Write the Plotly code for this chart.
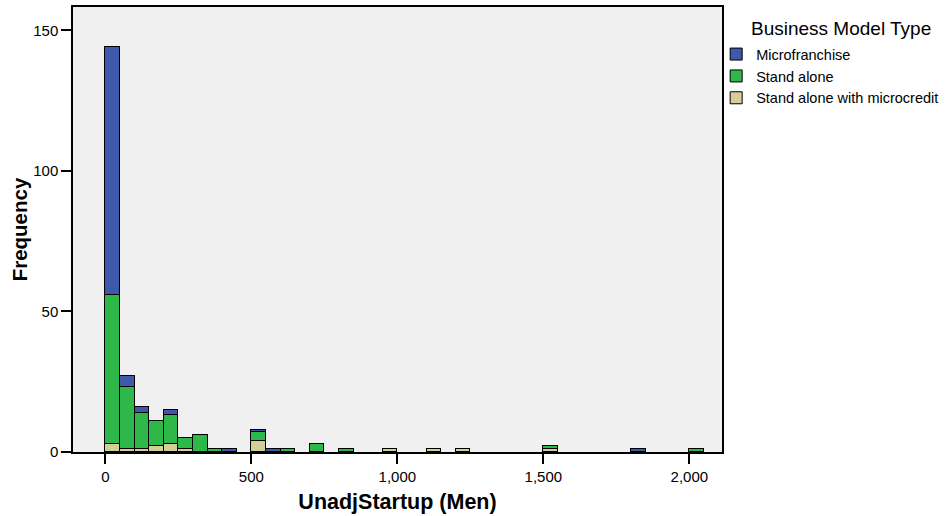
import plotly.graph_objects as go

# Histogram bins (lower edge of each 50-wide bin) of UnadjStartup (Men)
bin_start = [0, 50, 100, 150, 200, 250, 300, 350, 400, 500, 550, 600, 700, 800,
             950, 1100, 1200, 1500, 1800, 2000]
bin_width = 50

# Frequencies per bin for each Business Model Type
microcredit = [3, 1, 1, 2, 3, 1, 0, 0, 0, 4, 0, 0, 0, 0, 1, 1, 1, 1, 0, 0]
stand_alone = [53, 22, 13, 9, 10, 4, 6, 1, 0, 3, 0, 1, 3, 1, 0, 0, 0, 1, 0, 1]
microfranchise = [88, 4, 2, 0, 2, 0, 0, 0, 1, 1, 1, 0, 0, 0, 0, 0, 0, 0, 1, 0]

series = [
    ("Stand alone with microcredit", microcredit, "#d4cf98"),
    ("Stand alone", stand_alone, "#2fb84a"),
    ("Microfranchise", microfranchise, "#3e59ac"),
]

centers = [b + bin_width / 2 for b in bin_start]

fig = go.Figure()
for name, vals, col in series:
    fig.add_trace(go.Bar(
        x=centers, y=vals, width=bin_width, name=name,
        marker=dict(color=col, line=dict(color="#000000", width=1)),
    ))

font_family = "Liberation Sans, Arial, sans-serif"
fig.update_layout(
    barmode="stack",
    width=950, height=516,
    margin=dict(l=73, r=228, t=7, b=64, autoexpand=False),
    paper_bgcolor="#ffffff",
    plot_bgcolor="#f0f0f0",
    font=dict(family=font_family, size=15, color="#000000"),
    legend=dict(
        traceorder="reversed",
        x=0.991, xanchor="left", y=0.93, yanchor="top",
        font=dict(size=14.5),
        bgcolor="rgba(0,0,0,0)",
        tracegroupgap=0,
    ),
    annotations=[dict(
        text="Business Model Type", xref="paper", yref="paper",
        x=1.042, y=1.0 - (28.3 - 6.7) / 445.3, xanchor="left", yanchor="middle",
        showarrow=False, font=dict(size=19),
    )],
    xaxis=dict(
        range=[-111, 2112],
        tickvals=[0, 500, 1000, 1500, 2000],
        tickformat=",",
        ticks="outside", ticklen=10, tickcolor="#000000", tickwidth=1.5,
        showline=True, linecolor="#000000", linewidth=1.5, mirror=True,
        showgrid=False, zeroline=False,
        title=dict(text="<b>UnadjStartup (Men)</b>", font=dict(size=21.5), standoff=10),
        tickfont=dict(size=15),
    ),
    yaxis=dict(
        range=[0, 158.3],
        tickvals=[0, 50, 100, 150],
        ticks="outside", ticklen=10, tickcolor="#000000", tickwidth=1.5,
        showline=True, linecolor="#000000", linewidth=1.5, mirror=True,
        showgrid=False, zeroline=False,
        title=dict(text="<b>Frequency</b>", font=dict(size=20.5), standoff=0),
        tickfont=dict(size=15),
    ),
    bargap=0,
)

fig.write_html(
    "out.html",
    config={"displayModeBar": False},
    post_script="document.body.style.margin='0';document.body.style.overflow='hidden';",
)
